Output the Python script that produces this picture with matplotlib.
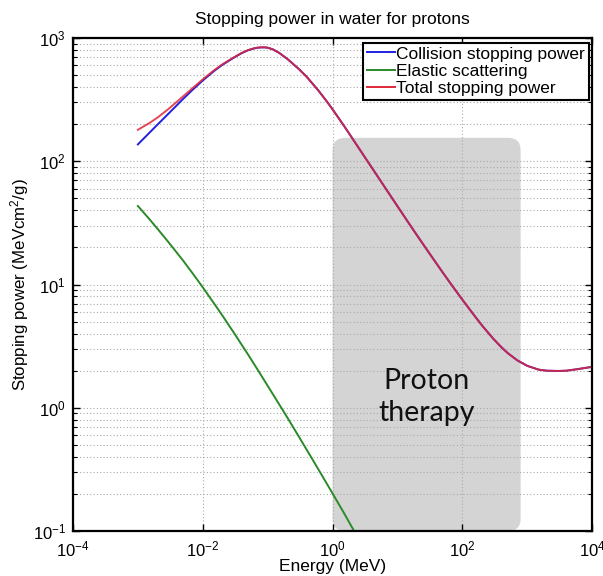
import matplotlib
matplotlib.use("Agg")
import matplotlib.pyplot as plt
from matplotlib.patches import FancyBboxPatch
from matplotlib.ticker import LogLocator, NullFormatter, FixedLocator

# ---- data ----
energy = [0.001, 0.0015, 0.002, 0.003, 0.005, 0.007, 0.01, 0.015, 0.02, 0.03,
          0.04, 0.05, 0.06, 0.07, 0.08, 0.09, 0.1, 0.12, 0.15, 0.2, 0.3, 0.4,
          0.6, 0.8, 1, 1.5, 2, 3, 5, 7, 10, 15, 20, 30, 50, 70, 100, 150, 200,
          300, 400, 500, 700, 1000, 1500, 2000, 3000, 4000, 6000, 10000]
collision = [137, 170, 198, 245, 321, 381, 452, 541, 605, 692,
             755, 796, 820, 834, 839, 839, 834, 809, 758, 678, 562, 484,
             377, 310, 264, 194, 154.5, 112, 74.8, 57.3, 43.2, 31.4, 25.1, 18.4, 12.5, 9.75,
             7.54, 5.68, 4.67, 3.63, 3.10, 2.78, 2.43, 2.19, 2.04, 2.0, 1.99, 2.0, 2.06, 2.15]
total = [180, 204, 226, 267, 337, 393, 462, 548, 611, 696,
         758, 799, 822, 836, 841, 841, 835, 810, 759, 679, 563, 484,
         377, 310, 264, 194, 154.5, 112, 74.8, 57.3, 43.2, 31.4, 25.1, 18.4, 12.5, 9.75,
         7.54, 5.68, 4.67, 3.63, 3.10, 2.78, 2.43, 2.19, 2.04, 2.0, 1.99, 2.0, 2.06, 2.15]
energy_el = [0.001, 0.0015, 0.002, 0.003, 0.005, 0.007, 0.01, 0.015, 0.02, 0.03,
             0.05, 0.07, 0.1, 0.15, 0.2, 0.3, 0.5, 0.7, 1, 1.5, 2, 2.3]
elastic = [43.4, 34.0, 28.4, 21.9, 15.6, 12.3, 9.5, 7.0, 5.62, 4.08,
           2.70, 2.04, 1.51, 1.07, 0.837, 0.588, 0.375, 0.278, 0.202, 0.140, 0.107, 0.094]

labels = ["Collision stopping power", "Elastic scattering", "Total stopping power"]
therapy_range = (1, 790)      # MeV
therapy_top = 155             # MeV cm2/g
xticks = [1e-4, 1e-2, 1e0, 1e2, 1e4]

plt.rcParams['font.family'] = ['Liberation Sans', 'DejaVu Sans']
plt.rcParams['mathtext.fontset'] = 'custom'
plt.rcParams['mathtext.rm'] = 'Liberation Sans'
plt.rcParams['mathtext.it'] = 'Liberation Sans:italic'

fig = plt.figure(figsize=(6.03, 5.76), dpi=100)
ax = fig.add_axes([0.121, 0.078, 0.861, 0.856])
ax.set_xscale('log')
ax.set_yscale('log')
ax.set_xlim(1e-4, 1e4)
ax.set_ylim(1e-1, 1e3)

# shaded proton therapy region (rounded box)
tr = ax.transScale + ax.transLimits
x0, y0 = tr.transform((therapy_range[0], 1e-1))
x1, y1 = tr.transform((therapy_range[1], therapy_top))
box = FancyBboxPatch((x0, y0), x1 - x0, y1 - y0,
                     boxstyle="round,pad=0,rounding_size=0.025",
                     transform=ax.transAxes, facecolor='#d4d4d4',
                     edgecolor='none', zorder=1, clip_on=True)
ax.add_patch(box)
ax.text((x0 + x1) / 2, 0.272, "Proton\ntherapy", transform=ax.transAxes,
        ha='center', va='center', fontsize=20.5, family=['Lato', 'DejaVu Sans'],
        color='#111111', linespacing=1.25, zorder=3)

l1, = ax.plot(energy, collision, color='#2020e0', lw=1.4, zorder=2)
l2, = ax.plot(energy_el, elastic, color='#2a8a2a', lw=1.4, zorder=2)
l3, = ax.plot(energy, total, color='#e02838', lw=1.4, alpha=0.85, zorder=2.1)

ax.xaxis.set_major_locator(FixedLocator(xticks))
ax.xaxis.set_minor_locator(FixedLocator([]))
ax.yaxis.set_major_locator(LogLocator(base=10, numticks=10))
ax.yaxis.set_minor_locator(LogLocator(base=10, subs=range(2, 10), numticks=20))
ax.yaxis.set_minor_formatter(NullFormatter())

ax.grid(True, which='major', axis='both', color='#aaaaaa', linestyle=(0, (1, 2)), lw=0.8)
ax.grid(True, which='minor', axis='y', color='#aaaaaa', linestyle=(0, (1, 2)), lw=0.8)

ax.tick_params(which='both', direction='in', top=True, right=True, labelsize=12)
ax.tick_params(which='major', length=5, width=1)
ax.tick_params(which='minor', length=3, width=0.8)
ax.tick_params(axis='x', which='major', pad=6)
ax.tick_params(axis='y', which='major', pad=5)
for s in ax.spines.values():
    s.set_linewidth(1.6)

ax.set_title("Stopping power in water for protons", fontsize=12.5, pad=10)
ax.set_xlabel("Energy (MeV)", fontsize=12.5, labelpad=0)
ax.set_ylabel("Stopping power (MeVcm$^2$/g)", fontsize=12.2, labelpad=1)

leg = ax.legend([l1, l2, l3], labels, loc='upper right', bbox_to_anchor=(0.993, 0.99),
                borderaxespad=0, fontsize=12.5, handlelength=1.6, handletextpad=0.1,
                labelspacing=0.12, borderpad=0.2, fancybox=False, framealpha=1,
                edgecolor='black')
leg.get_frame().set_linewidth(1.5)
for h in leg.legend_handles:
    h.set_alpha(1)

fig.savefig("out.png", dpi=100)
